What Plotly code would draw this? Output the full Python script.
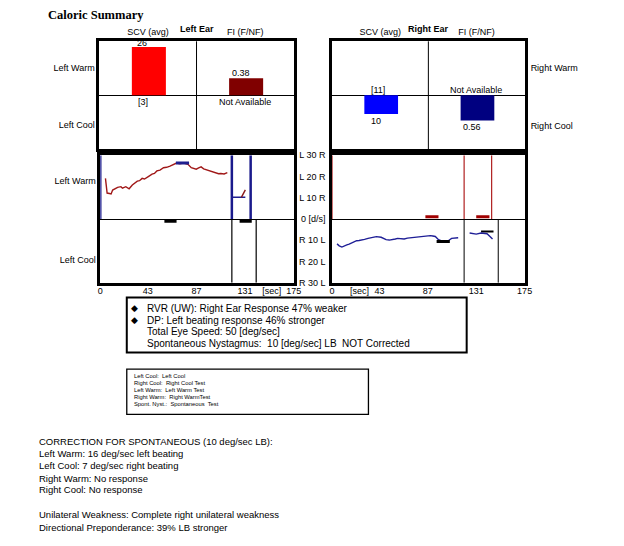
import plotly.graph_objects as go

W, H = 624, 546
def fx(x): return x / W
def fy(y): return 1 - y / H

# ---------------- data ----------------
bar_columns = ["SCV (avg)", "FI (F/NF)"]
bar_col_pos = [0.51, 1.51]
left_scv_warm = 26
left_scv_cool_label = "[3]"
left_fi_warm = 0.38
left_fi_cool_label = "Not Available"
right_scv_warm_label = "[11]"
right_scv_cool = 10
right_fi_warm_label = "Not Available"
right_fi_cool = 0.56

time_ticks = [0, 43, 87, 131, 175]
speed_ticks = [30, 20, 10, 0, -10, -20, -30]
speed_tick_text = ["L 30 R", "L 20 R", "L 10 R", "0 [d/s]", "R 10 L", "R 20 L", "R 30 L"]

left_warm_t = [4.7, 6.2, 8.3, 9.8, 11.2, 14.2, 15.7, 18.7, 20.1, 23.1, 26.1, 29.0, 31.5, 33.5, 35.5,
               37.9, 40.0, 42.3, 44.5, 46.8, 49.0, 51.2, 54.0, 57.2, 60.0, 63.1, 66.0, 69.0, 72.0, 74.9,
               77.0, 79.3, 82.3, 84.5, 86.8, 89.0, 91.2, 93.5, 95.7, 98.0, 100.1, 102.5, 104.5, 107.0,
               109.0, 112.0, 114.9]
left_warm_v = [19.1, 12.2, 12.0, 11.8, 13.6, 14.4, 14.9, 15.2, 14.5, 15.2, 14.2, 16.0, 16.8, 17.8, 18.0,
               19.1, 18.8, 19.4, 20.3, 21.1, 21.4, 22.6, 23.0, 24.1, 24.3, 24.9, 25.6, 26.3, 26.0, 26.3,
               26.1, 25.7, 24.1, 23.9, 23.4, 24.0, 24.5, 23.6, 23.2, 23.0, 22.6, 22.0, 21.7, 21.3,
               21.4, 21.2, 21.8]
left_warm_avg_t = [68.4, 80.3]
left_warm_avg_v = [26.3, 26.3]
left_warm_fix_t = [127.6, 131.2]
left_warm_fix_v = [10.2, 13.7]
left_warm_fix_avg_t = [119.3, 131.2]
left_warm_fix_avg_v = [10.2, 10.2]
left_cool_avg_t = [[58.0, 69.0], [126.0, 137.0]]
left_cool_avg_v = [-1.1, -1.1]
left_warm_marks = [0, 119, 136]
left_cool_marks = [119, 141]

right_cool_t = [4.5, 6.5, 8.9, 11.0, 13.4, 15.5, 17.9, 20.0, 22.3, 24.5, 26.8, 29.5, 32.7, 36.5, 40.2,
                44.6, 47.0, 49.1, 52.0, 55.1, 57.5, 59.5, 62.5, 65.5, 68.5, 71.4, 74.5, 77.4, 80.5,
                83.3, 86.5, 89.3, 91.5, 93.8, 96.7, 99.0, 101.2, 103.5, 105.6, 108.6, 111.5, 114.6]
right_cool_v = [-11.7, -12.6, -13.2, -12.6, -12.2, -11.8, -11.2, -10.9, -10.2, -10.1, -9.7, -9.6, -9.1, -8.8, -8.3,
                -8.6, -9.2, -9.7, -9.9, -9.8, -9.4, -9.1, -9.3, -9.4, -9.0, -8.8, -8.6, -8.3, -8.2,
                -8.0, -8.0, -7.8, -8.0, -8.2, -9.7, -10.3, -10.6, -10.4, -10.2, -9.1, -9.0, -8.8]
right_cool_avg_t = [95.0, 107.0]
right_cool_avg_v = [-10.6, -10.6]
right_cool_fix_t = [125.0, 128.0, 131.0, 135.4, 138.0, 140.8, 143.5, 145.8]
right_cool_fix_v = [-6.6, -6.9, -7.1, -6.6, -6.6, -6.9, -8.2, -9.4]
right_cool_fix_avg_t = [135.4, 146.7]
right_cool_fix_avg_v = [-5.9, -5.9]
right_warm_avg_t = [[84.8, 96.7], [131.0, 143.0]]
right_warm_avg_v = [1.1, 1.1]
right_warm_marks = [0, 120, 145]
right_cool_marks = [120, 151]

stats_lines = [
    ("◆", "RVR (UW): Right Ear Response 47% weaker"),
    ("◆", "DP: Left beating response 46% stronger"),
    ("", "Total Eye Speed: 50 [deg/sec]"),
    ("", "Spontaneous Nystagmus:\u00a0 10 [deg/sec] LB\u00a0 NOT Corrected"),
]
legend_lines = [
    "Left Cool:\u00a0 Left Cool",
    "Right Cool:\u00a0 Right Cool Test",
    "Left Warm:\u00a0 Left Warm Test",
    "Right Warm:\u00a0 Right WarmTest",
    "Spont. Nyst.:\u00a0 Spontaneous\u00a0 Test",
]
summary_lines = [
    "CORRECTION FOR SPONTANEOUS (10 deg/sec LB):",
    "Left Warm: 16 deg/sec left beating",
    "Left Cool: 7 deg/sec right beating",
    "Right Warm: No response",
    "Right Cool: No response",
    "",
    "Unilateral Weakness: Complete right unilateral weakness",
    "Directional Preponderance: 39% LB stronger",
]

FONT = "Liberation Sans, Arial, sans-serif"

# ---------------- figure ----------------
fig = go.Figure()

# top bar charts
fig.add_trace(go.Bar(x=[bar_col_pos[0]], y=[left_scv_warm], width=0.35, marker_color="#FF0000",
                     marker_line_width=0, xaxis="x", yaxis="y"))
fig.add_trace(go.Bar(x=[bar_col_pos[1]], y=[left_fi_warm], width=0.35, marker_color="#800000",
                     marker_line_width=0, xaxis="x", yaxis="y2"))
fig.add_trace(go.Bar(x=[bar_col_pos[0]], y=[-right_scv_cool], width=0.35, marker_color="#0000FF",
                     marker_line_width=0, xaxis="x2", yaxis="y3"))
fig.add_trace(go.Bar(x=[bar_col_pos[1]], y=[-right_fi_cool], width=0.35, marker_color="#000080",
                     marker_line_width=0, xaxis="x2", yaxis="y4"))

def vlines(ts, y0, y1):
    xs, ys = [], []
    for t in ts:
        xs += [t, t, None]
        ys += [y0, y1, None]
    return xs, ys

def segs(pairs, vals):
    xs, ys = [], []
    for (a, b), v in zip(pairs, vals):
        xs += [a, b, None]
        ys += [v, v, None]
    return xs, ys

def line(x, y, color, width, xa, ya):
    fig.add_trace(go.Scatter(x=x, y=y, mode="lines", line=dict(color=color, width=width),
                             xaxis=xa, yaxis=ya, hoverinfo="skip"))

# bottom-left (left ear traces)
xs, ys = vlines(left_warm_marks, 0, 30)
line(xs, ys, "#1A1A8C", 2.5, "x3", "y5")
xs, ys = vlines(left_cool_marks, -30, 0)
line(xs, ys, "#000000", 1.2, "x3", "y5")
line(left_warm_t, left_warm_v, "#A01818", 1.4, "x3", "y5")
line(left_warm_avg_t, left_warm_avg_v, "#1F1F8F", 3, "x3", "y5")
line(left_warm_fix_avg_t, left_warm_fix_avg_v, "#1F1F8F", 1.4, "x3", "y5")
line(left_warm_fix_t, left_warm_fix_v, "#8B1A1A", 1.4, "x3", "y5")
xs, ys = segs(left_cool_avg_t, left_cool_avg_v)
line(xs, ys, "#000000", 3, "x3", "y5")

# bottom-right (right ear traces)
xs, ys = vlines(right_warm_marks, 0, 30)
line(xs, ys, "#B02020", 1.2, "x4", "y6")
xs, ys = vlines(right_cool_marks, -30, 0)
line(xs, ys, "#000000", 1.0, "x4", "y6")
line(right_cool_t, right_cool_v, "#1E1E96", 1.4, "x4", "y6")
line(right_cool_avg_t, right_cool_avg_v, "#000000", 3, "x4", "y6")
line(right_cool_fix_avg_t, right_cool_fix_avg_v, "#000000", 2, "x4", "y6")
line(right_cool_fix_t, right_cool_fix_v, "#1E1E96", 1.4, "x4", "y6")
xs, ys = segs(right_warm_avg_t, right_warm_avg_v)
line(xs, ys, "#A00000", 3, "x4", "y6")

tickfont = dict(family=FONT, size=9, color="black")
frame = dict(showline=True, mirror=True, linecolor="black", linewidth=2.5, showgrid=False,
             ticks="", tickfont=tickfont)

lay = dict(
    width=W, height=H, margin=dict(l=0, r=0, t=0, b=0),
    paper_bgcolor="white", plot_bgcolor="white", showlegend=False, barmode="overlay",
    font=dict(family=FONT, size=9, color="black"),
    # top-left
    xaxis=dict(domain=[fx(98), fx(296)], range=[0, 2], side="top", anchor="y",
               tickvals=[0.5, 1.5], ticktext=bar_columns, zeroline=False, **frame),
    yaxis=dict(domain=[fy(147), fy(37)], range=[-29, 29], anchor="x",
               tickvals=[15, -16], ticktext=["Left Warm", "Left Cool"],
               zeroline=True, zerolinecolor="black", zerolinewidth=1, **frame),
    yaxis2=dict(overlaying="y", range=[-1.2, 1.2], visible=False, anchor="x"),
    # top-right
    xaxis2=dict(domain=[fx(335), fx(531)], range=[0, 2], side="top", anchor="y3",
                tickvals=[0.5, 1.5], ticktext=bar_columns, zeroline=False, **frame),
    yaxis3=dict(domain=[fy(147), fy(37)], range=[-29, 29], anchor="x2", showticklabels=False,
                zeroline=True, zerolinecolor="black", zerolinewidth=1,
                **{k: v for k, v in frame.items() if k != "tickfont"}),
    yaxis4=dict(overlaying="y3", range=[-1.2, 1.2], anchor="x2", side="right",
                tickvals=[0.61, -0.68], ticktext=["Right Warm", "Right Cool"], ticklabelstandoff=5,
                showline=False, showgrid=False, zeroline=False, ticks="", tickfont=tickfont),
    # bottom-left
    xaxis3=dict(domain=[fx(99), fx(296)], range=[0, 175], anchor="y5",
                tickvals=time_ticks[:4] + [155, 175], ticktext=["0", "43", "87", "131", "[sec]", "175"],
                ticklabelstandoff=-2, zeroline=False, layer="below traces", **frame),
    yaxis5=dict(domain=[fy(283), fy(153)], range=[-30, 30], anchor="x3",
                tickvals=[18, -19], ticktext=["Left Warm", "Left Cool"],
                zeroline=True, zerolinecolor="black", zerolinewidth=1, layer="below traces", **frame),
    # bottom-right
    xaxis4=dict(domain=[fx(335), fx(531)], range=[0, 175], anchor="y6",
                tickvals=[0, 25] + time_ticks[1:], ticktext=["0", "[sec]", "43", "87", "131", "175"],
                ticklabelstandoff=-2, zeroline=False, layer="below traces", **frame),
    yaxis6=dict(domain=[fy(283), fy(153)], range=[-30, 30], anchor="x4",
                tickvals=speed_ticks, ticktext=speed_tick_text, ticklabelstandoff=2,
                zeroline=True, zerolinecolor="black", zerolinewidth=1, layer="below traces", **frame),
    yaxis7=dict(overlaying="y6", range=[-30, 30], anchor="x4", side="right",
                tickvals=[18, -19], ticktext=["Right Warm", "Right Cool"], ticklabelstandoff=5,
                showline=False, showgrid=False, zeroline=False, ticks="", tickfont=tickfont),
)
fig.update_layout(**lay)

# column dividers in the top boxes
for xr, yr in [("x", "y domain"), ("x2", "y3 domain")]:
    fig.add_shape(type="line", xref=xr, yref=yr, x0=1, x1=1, y0=0, y1=1,
                  line=dict(color="black", width=1))

ann = []
def A(text, x, y, xref="paper", yref="paper", xanchor="left", yanchor="middle", size=9,
      family=FONT, bold=False, xshift=0, yshift=0):
    t = f"<b>{text}</b>" if bold else text
    ann.append(dict(text=t, x=x, y=y, xref=xref, yref=yref, xanchor=xanchor, yanchor=yanchor,
                    showarrow=False, font=dict(family=family, size=size, color="black"),
                    xshift=xshift, yshift=yshift, borderpad=0))

A("Caloric Summary", fx(45), fy(10), size=12.5, family="Liberation Serif, Times New Roman, serif", bold=True)
A("Left Ear", fx(197), fy(24), xanchor="center", bold=True)
A("Right Ear", fx(433), fy(24), xanchor="center", bold=True)

# bar value labels
A(str(left_scv_warm), bar_col_pos[0], left_scv_warm, "x", "y", "center", "bottom", xshift=-7, yshift=-2)
A(left_scv_cool_label, bar_col_pos[0], 0, "x", "y", "center", "top", xshift=-6, yshift=-1)
A(f"{left_fi_warm:.2f}", bar_col_pos[1], left_fi_warm, "x", "y2", "center", "bottom", xshift=-5, yshift=-1)
A(left_fi_cool_label, bar_col_pos[1], 0, "x", "y2", "center", "top", xshift=-1, yshift=-1)
A(right_scv_warm_label, bar_col_pos[0], 0, "x2", "y3", "center", "bottom", xshift=-3, yshift=-1)
A(str(right_scv_cool), bar_col_pos[0], -right_scv_cool, "x2", "y3", "center", "top", xshift=-5, yshift=-1)
A(right_fi_warm_label, bar_col_pos[1], 0, "x2", "y4", "center", "bottom", xshift=-1, yshift=-1)
A(f"{right_fi_cool:.2f}", bar_col_pos[1], -right_fi_cool, "x2", "y4", "center", "top", xshift=-5, yshift=0)

# stats box
stats_y = [309, 321, 333, 345]
for (sym, txt), yy in zip(stats_lines, stats_y):
    if sym:
        A(sym, fx(129), fy(yy), size=9)
    A(txt, fx(146), fy(yy), size=10)

legend_y = [378, 385, 392, 399, 406.5]
for txt, yy in zip(legend_lines, legend_y):
    A(txt, fx(132), fy(yy), size=5.8)

summary_y = [445, 457, 469, 482, 494, 506, 519, 532]
for txt, yy in zip(summary_lines, summary_y):
    if txt:
        A(txt, fx(36), fy(yy), size=9.5)

fig.update_layout(annotations=ann)

# boxes around the stats and abbreviation notes
fig.add_shape(type="rect", xref="paper", yref="paper", x0=fx(126), x1=fx(472), y0=fy(354), y1=fy(298),
              line=dict(color="black", width=2))
fig.add_shape(type="rect", xref="paper", yref="paper", x0=fx(126), x1=fx(372), y0=fy(417), y1=fy(371),
              line=dict(color="black", width=1.3))

page_css = (
    "document.documentElement.style.margin='0px';"
    "document.documentElement.style.overflow='hidden';"
    "document.body.style.margin='0px';"
    "document.body.style.overflow='hidden';"
    "var w=document.body.firstElementChild; if(w){w.style.height='546px';w.style.overflow='hidden';}"
)
fig.write_html("out.html", config={"displayModeBar": False}, post_script=page_css)
